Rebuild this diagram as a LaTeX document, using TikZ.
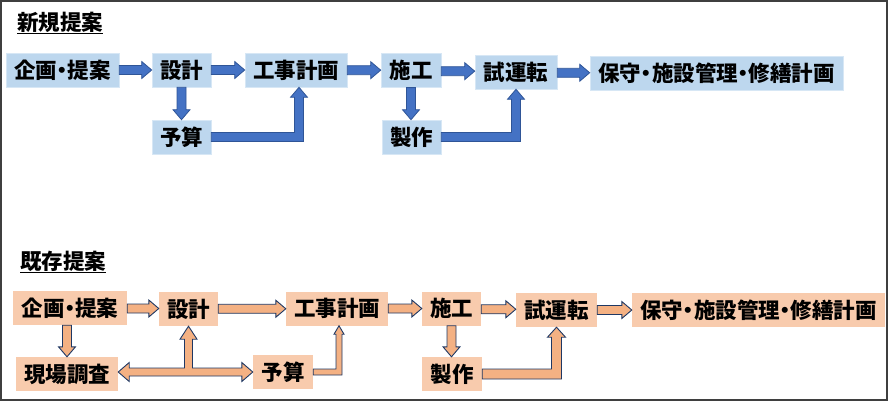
\documentclass[tikz,border=0pt]{standalone}
\usepackage{fontspec}
\setmainfont{Noto Sans CJK JP}
\usetikzlibrary{calc}
\definecolor{bluebox}{HTML}{BDD7EE}
\definecolor{bluearrow}{HTML}{4472C4}
\definecolor{blueedge}{HTML}{2F5597}
\definecolor{orangebox}{HTML}{F8CBAD}
\definecolor{orangearrow}{HTML}{F4B183}
\definecolor{navyedge}{HTML}{1F3864}
\definecolor{framegray}{HTML}{3F3F3F}
\newcommand\nkg{\makebox[0.5em]{・}}
\def\aSW{4.5pt}\def\aHW{8.5pt}\def\aHL{10pt}
% horizontal block arrow
\newcommand\harrow[3][]{%
 \draw[#1] let \p1=(#2), \p2=(#3), \p3=($(#2)!.5!(#3)$) in
 (\x1,{\y3+\aSW}) -- ({\x2-\aHL},{\y3+\aSW}) -- ({\x2-\aHL},{\y3+\aHW}) -- (\x2,\y3)
 -- ({\x2-\aHL},{\y3-\aHW}) -- ({\x2-\aHL},{\y3-\aSW}) -- (\x1,{\y3-\aSW}) -- cycle;}
% downward block arrow
\newcommand\varrow[3][]{%
 \draw[#1] let \p1=(#2), \p2=(#3) in
 ({\x1-\aSW},\y1) -- ({\x1-\aSW},{\y2+\aHL}) -- ({\x1-\aHW},{\y2+\aHL}) -- (\x1,\y2)
 -- ({\x1+\aHW},{\y2+\aHL}) -- ({\x1+\aSW},{\y2+\aHL}) -- ({\x1+\aSW},\y1) -- cycle;}
% right then up block arrow
\newcommand\barrow[3][]{%
 \draw[#1] let \p1=(#2), \p2=(#3) in
 (\x1,{\y1+\aSW}) -- ({\x2-\aSW},{\y1+\aSW}) -- ({\x2-\aSW},{\y2-\aHL}) -- ({\x2-\aHW},{\y2-\aHL})
 -- (\x2,\y2) -- ({\x2+\aHW},{\y2-\aHL}) -- ({\x2+\aSW},{\y2-\aHL}) -- ({\x2+\aSW},{\y1-\aSW})
 -- (\x1,{\y1-\aSW}) -- cycle;}
\tikzset{
 txt/.style={font=\bfseries\fontsize{21.5}{21.5}\selectfont},
 bbox/.style={txt, fill=bluebox, draw=bluebox!60!white, line width=0.6pt, minimum height=34pt, inner sep=0pt},
 obox/.style={txt, fill=orangebox, minimum height=34pt, inner sep=0pt},
 barr/.style={fill=bluearrow, draw=blueedge, line width=0.8pt, line join=miter},
 oarr/.style={fill=orangearrow, draw=navyedge, line width=0.9pt, line join=miter},
 ttl/.style={txt, anchor=base west, inner sep=0pt}
}
\begin{document}
\begin{tikzpicture}[x=1pt,y=-1pt]
\useasboundingbox (0,0) rectangle (890,402);
\draw[framegray, line width=1.6pt] (1,1) rectangle (887,400);

% ---------- 新規提案 ----------
\node[ttl] (t1) at (17,30) {\underline{新規提案}};
\node[bbox, minimum width=113pt] (kk1) at (62.5,70) {企画\nkg 提案};
\node[bbox, minimum width=59pt] (sk1) at (181.5,70) {設計};
\node[bbox, minimum width=102pt] (kj1) at (296,70) {工事計画};
\node[bbox, minimum width=60pt] (sg1) at (411,70.3) {施工};
\node[bbox, minimum width=82pt] (sr1) at (516,72) {試運転};
\node[bbox, minimum width=253pt] (hs1) at (716.5,73.5) {保守\nkg 施設管理\nkg 修繕計画};
\node[bbox, minimum width=59pt] (ys1) at (181.5,137) {予算};
\node[bbox, minimum width=59pt] (ss1) at (411.5,137) {製作};

\harrow[barr]{kk1.east}{sk1.west}
\harrow[barr]{sk1.east}{kj1.west}
\harrow[barr]{kj1.east}{sg1.west}
\harrow[barr]{sg1.east}{sr1.west}
\harrow[barr]{sr1.east}{hs1.west}
\varrow[barr]{sk1.south}{ys1.north}
\varrow[barr]{sg1.south}{ss1.north}
\barrow[barr]{ys1.east}{$(kj1.south)+(3,0)$}
\barrow[barr]{ss1.east}{sr1.south}

% ---------- 既存提案 ----------
\node[ttl] (t2) at (20,269) {\underline{既存提案}};
\node[obox, minimum width=114pt] (kk2) at (70,308) {企画\nkg 提案};
\node[obox, minimum width=59pt] (sk2) at (188.5,309) {設計};
\node[obox, minimum width=102pt] (kj2) at (337,308.5) {工事計画};
\node[obox, minimum width=59pt] (sg2) at (451.5,308.5) {施工};
\node[obox, minimum width=81pt] (sr2) at (556.5,310) {試運転};
\node[obox, minimum width=253pt] (hs2) at (758.5,310) {保守\nkg 施設管理\nkg 修繕計画};
\node[obox, minimum width=102pt] (gc2) at (67,374) {現場調査};
\node[obox, minimum width=60pt] (ys2) at (283,372) {予算};
\node[obox, minimum width=60pt] (ss2) at (452,374) {製作};

\harrow[oarr]{kk2.east}{sk2.west}
\harrow[oarr]{sk2.east}{kj2.west}
\harrow[oarr]{kj2.east}{sg2.west}
\harrow[oarr]{sg2.east}{sr2.west}
\harrow[oarr]{sr2.east}{hs2.west}
\varrow[oarr]{$(kk2.south)+(-3,0)$}{gc2.north}
\varrow[oarr]{sg2.south}{ss2.north}
{\def\aSW{5pt}\def\aHW{9pt}\def\aHL{10pt}
 \barrow[oarr]{ss2.east}{sr2.south}}
{\def\aSW{3pt}\def\aHW{5pt}\def\aHL{8.5pt}
 \barrow[oarr]{ys2.east}{$(kj2.south)+(2,0)$}}
% double-headed arrow with branch to 設計
\def\bSW{4pt}\def\bHW{9.5pt}\def\bHL{11pt}\def\cHW{8.5pt}\def\cHL{13pt}
\draw[oarr] let \p1=(gc2.east), \p2=(ys2.west), \p3=(sk2.south) in
 (\x1,\y2) -- ({\x1+\bHL},{\y2+\bHW}) -- ({\x1+\bHL},{\y2+\bSW})
 -- ({\x3-\bSW},{\y2+\bSW}) -- ({\x3-\bSW},{\y3-\cHL}) -- ({\x3-\cHW},{\y3-\cHL})
 -- (\x3,\y3) -- ({\x3+\cHW},{\y3-\cHL}) -- ({\x3+\bSW},{\y3-\cHL}) -- ({\x3+\bSW},{\y2+\bSW})
 -- ({\x2-\bHL},{\y2+\bSW}) -- ({\x2-\bHL},{\y2+\bHW}) -- (\x2,\y2)
 -- ({\x2-\bHL},{\y2-\bHW}) -- ({\x2-\bHL},{\y2-\bSW}) -- ({\x1+\bHL},{\y2-\bSW})
 -- ({\x1+\bHL},{\y2-\bHW}) -- cycle;
\end{tikzpicture}
\end{document}
